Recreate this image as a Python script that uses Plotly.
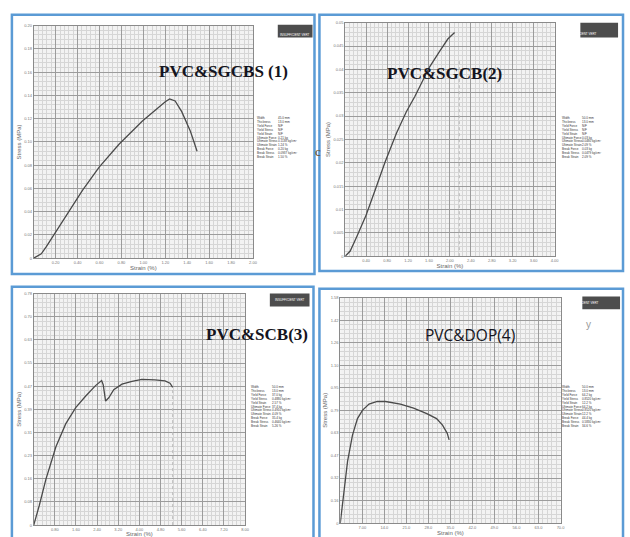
import plotly.graph_objects as go

W, H = 630, 537

# ---------------- data ----------------
# Panel 1: PVC&SGCBS (1)
strain1 = [0, 0.069, 0.115, 0.205, 0.326, 0.446, 0.597, 0.778, 0.989, 1.110, 1.20, 1.24, 1.29, 1.35, 1.43, 1.49]
stress1 = [0, 0.0037, 0.010, 0.0234, 0.0417, 0.0586, 0.0783, 0.098, 0.1177, 0.1276, 0.1346, 0.1369, 0.1352, 0.126, 0.109, 0.092]
xt1 = ["0.20", "0.40", "0.60", "0.80", "1.00", "1.20", "1.40", "1.60", "1.80", "2.00"]
yt1 = ["0", "0.02", "0.04", "0.06", "0.08", "0.10", "0.12", "0.14", "0.16", "0.18", "0.20"]

# Panel 2: PVC&SGCB(2)
strain2 = [0, 0.095, 0.222, 0.40, 0.57, 0.76, 0.98, 1.17, 1.33, 1.49, 1.61, 1.80, 1.96, 2.09]
stress2 = [0, 0.0011, 0.0042, 0.0088, 0.0141, 0.0201, 0.0264, 0.031, 0.0342, 0.038, 0.0405, 0.0438, 0.0465, 0.0479]
xt2 = ["0.40", "0.80", "1.20", "1.60", "2.00", "2.40", "2.80", "3.20", "3.60", "4.00"]
yt2 = ["0", "0.005", "0.01", "0.015", "0.02", "0.025", "0.03", "0.035", "0.04", "0.045", "0.05"]

# Panel 3: PVC&SCB(3)
strain3 = [0, 0.21, 0.46, 0.84, 1.21, 1.59, 1.96, 2.34, 2.57, 2.63, 2.72, 2.84, 3.03, 3.34, 3.72, 4.09, 4.59, 4.97, 5.16, 5.26]
stress3 = [0, 0.066, 0.154, 0.264, 0.341, 0.396, 0.434, 0.470, 0.487, 0.473, 0.418, 0.429, 0.456, 0.475, 0.484, 0.491, 0.489, 0.486, 0.478, 0.464]
xt3 = ["0.80", "1.60", "2.40", "3.20", "4.00", "4.80", "5.60", "6.40", "7.20", "8.00"]
yt3 = ["0", "0.08", "0.16", "0.23", "0.31", "0.39", "0.47", "0.55", "0.63", "0.70", "0.78"]

# Panel 4: PVC&DOP(4)
strain4 = [0, 1.26, 2.31, 3.88, 5.46, 7.03, 9.13, 11.75, 14.4, 19.1, 23.3, 27.5, 30.6, 32.5, 34.0, 34.6]
stress4 = [0, 0.249, 0.433, 0.617, 0.732, 0.790, 0.834, 0.852, 0.852, 0.834, 0.806, 0.767, 0.732, 0.686, 0.629, 0.583]
xt4 = ["7.00", "14.0", "21.0", "28.0", "35.0", "42.0", "49.0", "56.0", "63.0", "70.0"]
yt4 = ["0", "0.16", "0.32", "0.47", "0.63", "0.79", "0.95", "1.10", "1.26", "1.42", "1.58"]

titles = ["PVC&SGCBS (1)", "PVC&SGCB(2)", "PVC&SCB(3)", "PVC&DOP(4)"]
info_names = ["Width", "Thickness", "Yield Force", "Yield Stress", "Yield Strain", "Ultimate Force",
              "Ultimate Stress", "Ultimate Strain", "Break Force", "Break Stress", "Break Strain"]

# ---------------- layout helpers ----------------
def px_x(p):
    return p / W

def px_y(p):
    return 1 - p / H

panels = [
    dict(x=strain1, y=stress1, xt=xt1, yt=yt1, xmax=2.0, ymax=0.20,
         dom=(34, 255, 23, 259), frame=(12, 317, 12, 275)),
    dict(x=strain2, y=stress2, xt=xt2, yt=yt2, xmax=4.0, ymax=0.05,
         dom=(348, 559, 20, 257), frame=(322, 628, 12, 272)),
    dict(x=strain3, y=stress3, xt=xt3, yt=yt3, xmax=8.0, ymax=0.78,
         dom=(34, 247, 295, 530), frame=(12, 316, 288, 545)),
    dict(x=strain4, y=stress4, xt=xt4, yt=yt4, xmax=70.0, ymax=1.58,
         dom=(343, 565, 299, 528), frame=(322, 628, 290, 545)),
]

fig = go.Figure()
layout = dict(width=W, height=H, margin=dict(l=0, r=0, t=0, b=0),
              paper_bgcolor="white", plot_bgcolor="#f3f3f3", showlegend=False)
shapes = []
annotations = []

for i, p in enumerate(panels):
    n = "" if i == 0 else str(i + 1)
    xa, ya = "x" + n, "y" + n
    fig.add_trace(go.Scatter(x=p["x"], y=p["y"], mode="lines", xaxis=xa, yaxis=ya,
                             line=dict(color="#4a4a4a", width=1.3), hoverinfo="skip"))
    x0, x1, y0, y1 = p["dom"]
    xstep = p["xmax"] / 10
    ystep = p["ymax"] / 10
    xvals = [xstep * (k + 1) for k in range(10)]
    yvals = [ystep * k for k in range(11)]
    common = dict(showgrid=True, gridcolor="#9c9c9c", gridwidth=1, zeroline=False,
                  showline=True, linecolor="#8a8a8a", mirror=True, ticks="",
                  tickfont=dict(size=4, color="#777", family="Liberation Sans"))
    layout["xaxis" + n] = dict(common, domain=[px_x(x0), px_x(x1)], anchor=ya,
                               range=[0, p["xmax"]], tickmode="array", tickvals=xvals, ticktext=p["xt"],
                               minor=dict(dtick=xstep / 5, showgrid=True, gridcolor="#d6d6d6", gridwidth=0.6),
                               title=dict(text="Strain (%)", font=dict(size=6, color="#666", family="Liberation Sans"),
                                          standoff=1))
    layout["yaxis" + n] = dict(common, domain=[px_y(y1), px_y(y0)], anchor=xa,
                               range=[0, p["ymax"]], tickmode="array", tickvals=yvals, ticktext=p["yt"],
                               minor=dict(dtick=ystep / 5, showgrid=True, gridcolor="#d6d6d6", gridwidth=0.6),
                               title=dict(text="Stress (MPa)", font=dict(size=6, color="#666", family="Liberation Sans"),
                                          standoff=2))
    fx0, fx1, fy0, fy1 = p["frame"]
    shapes.append(dict(type="rect", xref="paper", yref="paper", x0=px_x(fx0), x1=px_x(fx1),
                       y0=px_y(fy1), y1=px_y(fy0), line=dict(color="#5b9bd5", width=2.5)))

# dark header boxes
boxes = [(280, 315, 22, 35), (585, 623, 20, 35), (272, 312, 295, 308), (587, 625, 298, 311)]
for bx0, bx1, by0, by1 in boxes:
    shapes.append(dict(type="rect", xref="paper", yref="paper", x0=px_x(bx0), x1=px_x(bx1),
                       y0=px_y(by1), y1=px_y(by0), fillcolor="#4d4d4d", line=dict(width=0)))
    annotations.append(dict(xref="paper", yref="paper", x=px_x((bx0 + bx1) / 2), y=px_y((by0 + by1) / 2),
                            text="INSUFFICIENT VERT", showarrow=False,
                            font=dict(size=3, color="white", family="Liberation Sans")))

# dotted break markers (panels 2 and 3)
shapes.append(dict(type="line", xref="x2", yref="y2", x0=2.18, x1=2.18, y0=0, y1=0.042,
                   line=dict(color="#bbbbbb", width=1, dash="dot")))
shapes.append(dict(type="line", xref="x3", yref="y3", x0=5.26, x1=5.26, y0=0.0, y1=0.464,
                   line=dict(color="#bbbbbb", width=1, dash="dot")))

# titles
title_pos = [(225, 58, "Liberation Serif", True, 17), (508, 60, "Liberation Serif", True, 17),
             (206, 337, "Liberation Serif", True, 17), (521, 337, "Open Sans", False, 15.5)]
for t, (tx, ty, fam, bold, sz) in zip(titles, title_pos):
    annotations.append(dict(xref="paper", yref="paper", x=px_x(tx), y=px_y(ty),
                            text=("<b>%s</b>" % t) if bold else t, showarrow=False,
                            font=dict(size=sz, color="#141420", family=fam)))

# info blocks
info_vals = [
    ["45.0 mm", "13.0 mm", "N/F", "N/F", "N/F", "0.21 kg", "0.1138 kg/cm²", "1.24 %", "0.20 kg", "0.0937 kg/cm²", "1.50 %"],
    ["50.0 mm", "13.0 mm", "N/F", "N/F", "N/F", "0.03 kg", "0.0480 kg/cm²", "2.09 %", "0.03 kg", "0.0479 kg/cm²", "2.09 %"],
    ["50.0 mm", "13.0 mm", "37.0 kg", "0.4880 kg/cm²", "2.57 %", "37.4 kg", "0.4910 kg/cm²", "4.09 %", "35.4 kg", "0.4640 kg/cm²", "5.26 %"],
    ["50.0 mm", "13.0 mm", "64.2 kg", "0.8520 kg/cm²", "12.2 %", "64.2 kg", "0.8520 kg/cm²", "12.2 %", "44.4 kg", "0.5830 kg/cm²", "34.6 %"],
]
info_pos = [(257, 113), (564, 113), (251, 386), (564, 386)]
for vals, (ix, iy) in zip(info_vals, info_pos):
    annotations.append(dict(xref="paper", yref="paper", x=px_x(ix), y=px_y(iy), xanchor="left", yanchor="top",
                            text="<br>".join(info_names), showarrow=False, align="left",
                            font=dict(size=3, color="#333", family="Liberation Sans")))
    annotations.append(dict(xref="paper", yref="paper", x=px_x(ix + 21), y=px_y(iy), xanchor="left", yanchor="top",
                            text="<br>".join(vals), showarrow=False, align="left",
                            font=dict(size=3, color="#333", family="Liberation Sans")))

# stray scan marks
annotations.append(dict(xref="paper", yref="paper", x=px_x(321), y=px_y(141), text="c", showarrow=False,
                        font=dict(size=13, color="#6b4a1e", family="Liberation Serif")))
annotations.append(dict(xref="paper", yref="paper", x=px_x(598), y=px_y(326), text="y", showarrow=False,
                        font=dict(size=10, color="#999", family="Liberation Sans")))

layout["shapes"] = shapes
layout["annotations"] = annotations
fig.update_layout(**layout)
fig.write_html("out.html", config={"displayModeBar": False},
               post_script="document.body.style.margin='0';document.body.style.padding='0';")
